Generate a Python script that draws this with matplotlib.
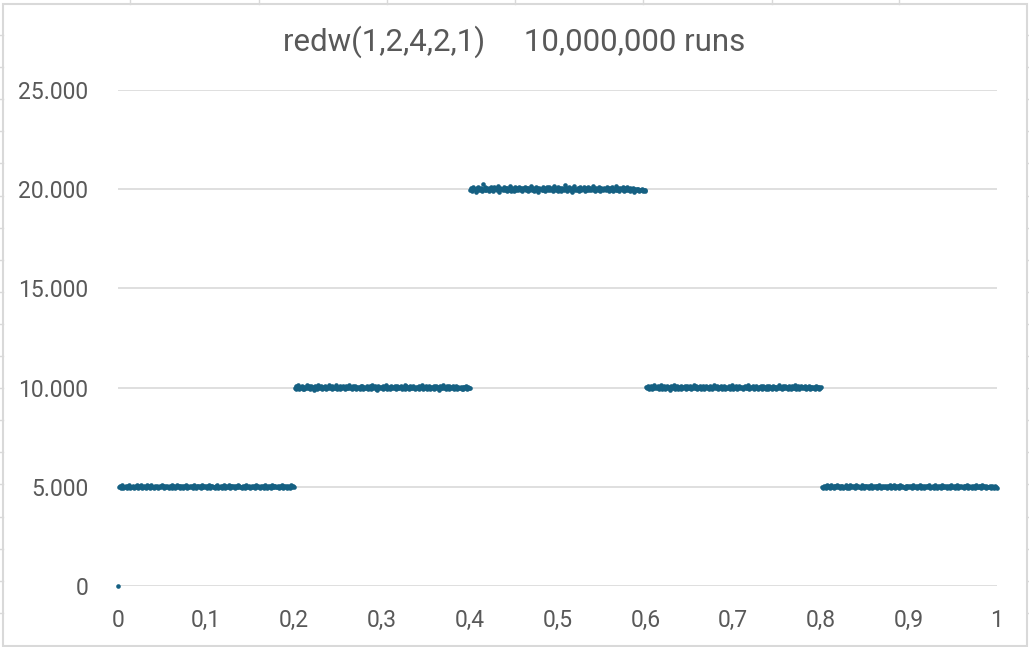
import numpy as np
import matplotlib.pyplot as plt
from matplotlib.lines import Line2D
from matplotlib.patches import Rectangle

TITLE = "redw(1,2,4,2,1)     10,000,000 runs"

# bin counts, bins of width 0.001 (x = 0.000 ... 1.000)
first_bin = [0]
seg_1 = [
    4987, 5042, 4963, 5011, 5078, 4932, 5006, 4991, 5054, 4948,
    5023, 4969, 5102, 4957, 5015, 4984, 5061, 4938, 5008, 5037,
    4976, 5093, 4951, 5029, 4998, 5066, 4921, 5012, 4983, 5047,
    5005, 4944, 5071, 4989, 5018, 4962, 5039, 5084, 4973, 5002,
    4956, 5027, 4995, 5058, 4939, 5013, 4979, 5044, 4967, 5091,
    5021, 4948, 5003, 5036, 4972, 5065, 4987, 4935, 5049, 5010,
    4964, 5082, 4993, 5024, 4952, 5007, 5069, 4981, 5033, 4946,
    5016, 4997, 5055, 4928, 5040, 4975, 5088, 4959, 5019, 5001,
    4970, 5047, 4986, 5030, 4943, 5074, 4999, 5012, 4961, 5052,
    5025, 4977, 5063, 4940, 5008, 5096, 4968, 5034, 4990, 5045,
    4953, 5017, 4982, 5071, 4936, 5028, 5059, 4974, 5003, 4947,
    5039, 4991, 5085, 4962, 5014, 4979, 5050, 4925, 5022, 4996,
    5067, 4958, 5031, 4984, 5009, 5076, 4942, 5026, 4971, 5043,
    4989, 5060, 4950, 5018, 4998, 5081, 4966, 5035, 4977, 5011,
    4944, 5053, 4993, 5020, 4960, 5072, 4983, 5006, 5048, 4931,
    5015, 4975, 5062, 4997, 5029, 4955, 5087, 4969, 5040, 4988,
    5003, 4946, 5058, 4980, 5024, 4963, 5069, 4992, 5012, 4938,
    5051, 4986, 5033, 4957, 5077, 4999, 5016, 4972, 5045, 4965,
    4990, 5064, 4941, 5027, 5005, 4978, 5094, 4954, 5038, 4983,
    5020, 4961, 5047, 4995, 5010, 4934, 5073, 4987, 5026, 4968,
]
seg_2 = [
    9987, 10062, 9941, 10015, 10108, 9923, 10034, 9978, 10091, 9952,
    10046, 9905, 10023, 9969, 10127, 9994, 10057, 9931, 10011, 10083,
    9962, 10038, 9896, 10074, 10002, 9947, 10119, 9985, 10029, 9958,
    10065, 9912, 10048, 9976, 10096, 10007, 9939, 10052, 9983, 10141,
    9968, 10019, 9924, 10088, 10036, 9957, 10003, 10112, 9945, 10027,
    9990, 10071, 9918, 10044, 9972, 10099, 10010, 9936, 10059, 9981,
    10025, 9963, 10134, 9994, 10042, 9908, 10076, 9956, 10013, 10087,
    9937, 10054, 9979, 10021, 9946, 10102, 9998, 10067, 9927, 10039,
    10005, 9965, 10081, 9914, 10047, 9988, 10058, 9942, 10123, 9973,
    10016, 10094, 9954, 10031, 9901, 10069, 9992, 10045, 9960, 10008,
    10077, 9933, 10026, 9986, 10113, 9949, 10053, 9970, 10037, 9919,
    10084, 9997, 10018, 9958, 10065, 9928, 10104, 9981, 10040, 9966,
    10012, 10089, 9943, 10028, 9975, 10136, 9953, 10061, 9991, 10006,
    9921, 10073, 9984, 10049, 9961, 10097, 10001, 9938, 10055, 9977,
    10032, 9909, 10086, 9968, 10020, 10117, 9950, 10043, 9993, 10064,
    9934, 10010, 9980, 10079, 9926, 10051, 9964, 10029, 10093, 9947,
    10003, 10066, 9957, 10035, 9899, 10082, 9989, 10024, 9955, 10107,
    9975, 10041, 9916, 10058, 10011, 9944, 10072, 9983, 10030, 9962,
    10095, 9940, 10017, 9986, 10068, 9929, 10046, 9971, 10004, 10053,
    9952, 10021, 9907, 10038, 9978, 10060, 9935, 10014, 9996, 9958,
]
seg_3 = [
    19968, 20045, 19912, 20087, 19994, 20031, 19876, 20058, 20136, 19947,
    20012, 19983, 20074, 19921, 20265, 20018, 19959, 20101, 19938, 20067,
    20004, 19894, 20049, 20122, 19966, 20033, 19917, 20088, 19985, 20056,
    19942, 20141, 20009, 19878, 20072, 19990, 20027, 19951, 20113, 19969,
    20038, 19906, 20081, 20015, 19957, 20152, 19930, 20063, 19998, 20024,
    19887, 20097, 19974, 20041, 19936, 20128, 20003, 19962, 20070, 19915,
    20052, 19989, 20109, 19944, 20036, 19901, 20084, 19972, 20019, 20147,
    19953, 20061, 19928, 20006, 20093, 19980, 20044, 19869, 20078, 19995,
    20029, 19939, 20118, 19964, 20057, 19911, 20005, 20086, 19977, 20132,
    19948, 20023, 19990, 20069, 19922, 20174, 20011, 19959, 20048, 19896,
    20103, 19971, 20037, 19934, 20082, 20013, 19955, 20211, 19987, 20059,
    19918, 20042, 20096, 19965, 20028, 19883, 20075, 19997, 20139, 19943,
    20016, 19976, 20065, 19908, 20051, 20124, 19950, 20034, 19992, 20089,
    19927, 20047, 20003, 19961, 20106, 19935, 20071, 19984, 20022, 20168,
    19956, 20039, 19898, 20085, 20010, 19973, 20131, 19919, 20054, 19993,
    20026, 19940, 20077, 20001, 19958, 20115, 19986, 20043, 19904, 20062,
    19969, 20098, 19932, 20035, 20014, 19979, 20145, 19947, 20066, 19891,
    20050, 19995, 20021, 19963, 20092, 19913, 20040, 19982, 20108, 19954,
    19999, 20073, 19926, 20032, 19967, 20057, 19880, 20019, 19938, 19986,
    19952, 20027, 19903, 19975, 19948, 20012, 19919, 19965, 19931, 19958,
]
seg_4 = [
    10034, 9968, 10087, 9942, 10011, 10065, 9926, 10052, 9985, 10109,
    9957, 10023, 9994, 10078, 9913, 10041, 9972, 10126, 9949, 10006,
    10061, 9935, 10018, 9981, 10093, 9960, 10037, 9904, 10074, 9999,
    10045, 9977, 10115, 9929, 10008, 10056, 9953, 10029, 9988, 10082,
    9918, 10049, 9966, 10013, 10098, 9940, 10067, 9995, 10024, 9958,
    10072, 9911, 10039, 9983, 10141, 9964, 10002, 10058, 9931, 10027,
    9976, 10089, 9947, 10015, 9992, 10063, 9920, 10044, 10105, 9969,
    10031, 9954, 10076, 9986, 10009, 9937, 10052, 10121, 9961, 10019,
    9997, 10068, 9928, 10043, 9974, 10091, 9945, 10012, 10057, 9982,
    9916, 10035, 10003, 9959, 10084, 9943, 10026, 9990, 10117, 9951,
    10047, 9973, 10064, 9909, 10021, 10096, 9967, 10038, 9984, 10055,
    9933, 10010, 10079, 9956, 10032, 9998, 10133, 9925, 10050, 9979,
    10016, 10087, 9948, 10024, 9962, 10070, 9995, 9914, 10041, 10006,
    9986, 10059, 9939, 10102, 9971, 10028, 9952, 10081, 10011, 9934,
    10066, 9980, 10044, 9921, 10093, 9963, 10017, 10054, 9944, 10030,
    9969, 10112, 9996, 10037, 9930, 10075, 9987, 10003, 10062, 9958,
    10020, 9941, 10085, 9976, 10048, 9912, 10069, 10001, 9965, 10124,
    9950, 10033, 9989, 10058, 9936, 10014, 10090, 9961, 10042, 9978,
    10007, 10071, 9924, 10039, 9993, 10063, 9947, 10025, 9985, 10052,
    9959, 10018, 9932, 10076, 9970, 10036, 9944, 10009, 9983, 10041,
]
seg_5 = [
    5012, 4963, 5048, 4987, 5025, 4941, 5066, 4995, 5031, 4958,
    5079, 4976, 5004, 4937, 5052, 5018, 4969, 5087, 4984, 5027,
    4951, 5043, 4998, 5061, 4929, 5015, 4982, 5074, 4960, 5036,
    5003, 4946, 5092, 4973, 5021, 4990, 5057, 4934, 5010, 5068,
    4967, 5039, 4985, 5006, 4952, 5083, 4999, 5026, 4944, 5049,
    5017, 4978, 5064, 4936, 5030, 4993, 5071, 4957, 5008, 5041,
    4981, 5055, 4923, 5019, 4970, 5088, 5002, 4948, 5035, 4986,
    5060, 4965, 5013, 5046, 4939, 5024, 4991, 5077, 4955, 5009,
    5034, 4980, 5069, 4950, 5016, 4997, 5053, 4932, 5028, 5081,
    4972, 5040, 4989, 5007, 4962, 5065, 4943, 5022, 5000, 5058,
    4976, 5031, 4953, 5094, 4984, 5011, 4966, 5047, 4931, 5037,
    5005, 5070, 4959, 5023, 4994, 5062, 4945, 5018, 4983, 5051,
    4968, 5029, 5085, 4956, 5003, 4979, 5042, 4938, 5067, 4996,
    5014, 4961, 5056, 4988, 5032, 4949, 5076, 5001, 4971, 5039,
    4992, 5060, 4935, 5025, 4982, 5048, 4964, 5089, 4977, 5010,
    5044, 4953, 5019, 4998, 5072, 4942, 5033, 4986, 5057, 4969,
    5006, 5064, 4947, 5027, 4975, 5093, 4958, 5036, 4990, 5015,
    4963, 5049, 4984, 5020, 4940, 5078, 4997, 5012, 5054, 4973,
    5026, 4957, 5068, 4981, 5038, 4999, 4951, 5045, 4967, 5011,
    4989, 5032, 4954, 5061, 4976, 5008, 4944, 5030, 4985, 4962,
]

counts = np.array(first_bin + seg_1 + seg_2 + seg_3 + seg_4 + seg_5)
x = np.arange(len(counts)) / 1000.0

x_ticks = [0, 0.1, 0.2, 0.3, 0.4, 0.5, 0.6, 0.7, 0.8, 0.9, 1.0]
x_labels = ["0", "0,1", "0,2", "0,3", "0,4", "0,5", "0,6", "0,7", "0,8", "0,9", "1"]
y_ticks = [0, 5000, 10000, 15000, 20000, 25000]
y_labels = ["0", "5.000", "10.000", "15.000", "20.000", "25.000"]

TEXT = "#595959"
GRID = "#d9d9d9"
MARKER = "#156082"

plt.rcParams["font.family"] = ["Roboto", "DejaVu Sans"]

W, H = 1029, 647
fig = plt.figure(figsize=(W / 100, H / 100), dpi=100)
fig.patch.set_facecolor("white")

# spreadsheet cells behind the chart
for cx in [130, 259, 387, 515, 643, 772, 899]:
    fig.add_artist(Line2D([cx / W, cx / W], [1 - 0 / H, 1 - 4 / H], color=GRID, lw=1))
for k in range(19):
    ry = 35 + 32.1 * k
    fig.add_artist(Line2D([0, 3 / W], [1 - ry / H, 1 - ry / H], color=GRID, lw=1))
    fig.add_artist(Line2D([1027 / W, 1], [1 - ry / H, 1 - ry / H], color=GRID, lw=1))
# chart frame
fig.add_artist(Rectangle((3 / W, 1 - 646 / H), 1024 / W, 642 / H, transform=fig.transFigure,
                         facecolor="white", edgecolor=GRID, lw=1.5, zorder=0))

ax = fig.add_axes([118 / W, 1 - 586 / H, 879 / W, 496 / H])
ax.set_facecolor("none")
ax.scatter(x, counts, s=11, color=MARKER, linewidths=0, zorder=3, clip_on=False)

ax.set_xlim(0, 1)
ax.set_ylim(0, 25000)
ax.set_xticks(x_ticks)
ax.set_xticklabels(x_labels)
ax.set_yticks(y_ticks)
ax.set_yticklabels(y_labels)
ax.tick_params(axis="both", length=0, labelsize=16.5, labelcolor=TEXT)
ax.tick_params(axis="y", pad=21.5)
ax.tick_params(axis="x", pad=16.5)
ax.grid(axis="y", color=GRID, lw=1.2)
ax.set_axisbelow(True)
for s in ax.spines.values():
    s.set_visible(False)

fig.text(514 / W, 1 - 42 / H, TITLE, ha="center", va="center", fontsize=22.5, color=TEXT)

fig.savefig("out.png", dpi=100)
